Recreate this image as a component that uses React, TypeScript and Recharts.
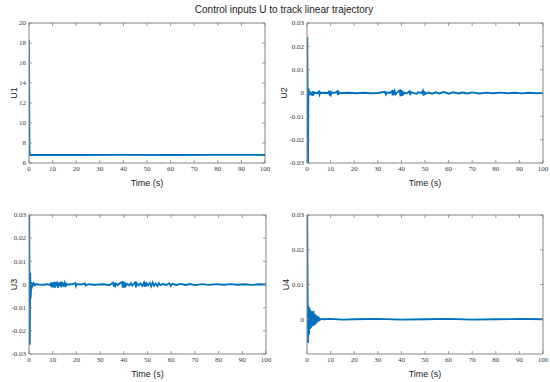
import React from 'react';
import { LineChart, Line, XAxis, YAxis, Label, ReferenceLine } from 'recharts';

// time ticks shared by all four panels
const timeTicks = [0, 10, 20, 30, 40, 50, 60, 70, 80, 90, 100];

const u1Ticks = [6, 8, 10, 12, 14, 16, 18, 20];
const smallTicks = [-0.03, -0.02, -0.01, 0, 0.01, 0.02, 0.03];
const u4Ticks = [0, 0.01, 0.02, 0.03];

const u1Time = [0, 0.2, 0.4, 1, 20, 40, 60, 80, 100];
const u1Value = [18.3, 7.4, 6.8, 6.82, 6.8, 6.82, 6.8, 6.82, 6.8];

const u2Time = [
  0, 0.15, 0.3, 0.45, 0.6, 0.8, 1.1, 1.5,
  2, 2.3, 2.6, 2.9, 3.5, 4.5, 5, 5.3, 5.6, 6, 7.5,
  9, 9.3, 9.6, 9.9, 10.2, 10.5, 11.5, 12.8, 13.1, 13.4, 13.7, 15,
  18, 21, 24, 27, 30, 33, 33.4, 33.8, 35,
  36, 36.3, 36.6, 36.9, 37.2, 37.6, 38.2, 39.3, 39.6, 39.9, 40.2, 40.5, 40.8, 41.5,
  42.3, 43.4, 43.7, 44, 45, 46.5, 47, 48.5, 49.1, 49.4, 49.7, 50, 51.5,
  53, 54.5, 56, 58, 60, 62, 64, 66, 68, 70, 73, 76, 79, 82, 85, 88, 91, 94, 97, 100,
];
const u2Value = [
  0, 0.024, -0.007, -0.03, 0.002, -0.001, 0.0008, -0.0004,
  0, -0.0012, 0.0008, -0.0005, 0.0002, -0.0001, 0.0006, -0.0007, 0.0003, 0, 0.0001,
  0, 0.0009, -0.0011, 0.001, -0.0006, 0.0003, 0, 0.0007, -0.0009, 0.0004, -0.0002, 0,
  0.0001, -0.0001, 0.0001, -0.0001, 0, 0.0005, -0.0006, 0.0002, 0,
  0.0008, -0.001, 0.0012, -0.0009, 0.0007, -0.0005, 0.0003, 0.0011, -0.0014, 0.0013, -0.0012, 0.0009, -0.0006, 0.0002,
  -0.0002, 0.0008, -0.0009, 0.0004, 0.0001, -0.0004, 0.0003, 0, 0.001, -0.0011, 0.0008, -0.0004, 0.0002,
  -0.0003, 0.0003, -0.0002, 0.0004, -0.0003, 0.0003, -0.0002, 0.0002, -0.0002, 0.0003, -0.0002, 0.0002, -0.0001, 0.0002, -0.0001, 0.0001, -0.0002, 0.0001, -0.0001, 0,
];

const u3Time = [
  0, 0.1, 0.2, 0.35, 0.5, 0.7, 1, 1.4,
  2, 2.5, 3, 4, 6, 8, 9, 9.3, 9.6, 9.9, 10.3, 10.7, 11, 11.3, 11.6, 11.9, 12.2, 12.6, 13, 13.3,
  13.6, 14, 14.5, 15, 15.3, 15.6, 15.9, 16.5,
  18, 19.5, 19.8, 20.1, 22, 23.6, 23.9, 25, 28, 31, 34,
  35.5, 35.8, 36.1, 36.4, 36.8, 37.5, 38.2, 39.3, 39.6, 39.9, 40.2, 40.5, 40.8, 41.5, 42.3,
  43, 43.6, 44.2, 44.8, 45.1, 45.4, 46.2, 47, 47.8, 48.5, 48.8, 49.1, 49.4, 49.7, 50.3,
  51, 51.6, 52.2, 52.8, 53.5, 54.2, 54.8, 55.4, 56.5, 58, 59.2, 59.8, 60.5, 62,
  64, 66, 68, 70, 73, 76, 79, 82, 85, 88, 91, 94, 97, 100,
];
const u3Value = [
  0, 0.03, 0.004, -0.026, 0.005, -0.006, 0.001, -0.0008,
  0.0006, -0.0004, 0.0002, 0, -0.0001, 0.0001, -0.0003, 0.0009, -0.0012, 0.0008, -0.0004, 0.0011, -0.0013, 0.001, -0.0006, 0.0012, -0.0014, 0.0008, -0.0005, 0.0011,
  -0.0012, 0.0006, -0.0004, 0.0008, -0.0011, 0.0007, -0.0003, 0,
  0.0001, 0.0006, -0.0007, 0.0002, 0, 0.0005, -0.0004, 0.0001, -0.0001, 0.0001, -0.0002,
  0.0008, -0.0009, 0.0007, -0.0006, 0.0004, -0.0003, 0.0005, 0.001, -0.0013, 0.0012, -0.0014, 0.0009, -0.0007, 0.0003, -0.0004,
  0.0006, -0.0005, 0.0004, 0.0009, -0.0012, 0.0006, -0.0004, 0.0005, -0.0006, 0.0008, -0.001, 0.0009, -0.0008, 0.0005, -0.0003,
  0.0007, -0.0008, 0.0009, -0.0006, 0.0005, -0.0007, 0.0006, -0.0003, 0.0002, -0.0002, 0.0005, -0.0006, 0.0003, -0.0002,
  0.0003, -0.0002, 0.0002, -0.0003, 0.0002, -0.0002, 0.0002, -0.0001, 0.0002, -0.0001, 0.0001, -0.0002, 0.0001, 0,
];

const u4Time = [
  0, 0.1, 0.25, 0.45, 0.65, 0.85, 1.05, 1.3, 1.55, 1.8,
  2.1, 2.4, 2.7, 3.0, 3.3, 3.6, 3.9, 4.2, 4.5, 4.8,
  5.1, 5.5, 6, 7, 10, 15, 20, 30, 40, 50,
  60, 70, 80, 90, 100,
];
const u4Value = [
  0, 0.03, 0.01, -0.0068, 0.0038, -0.0045, 0.0032, -0.0028, 0.0026, -0.0024,
  0.0022, -0.002, 0.0024, -0.0018, 0.0016, -0.0015, 0.0012, -0.001, 0.0008, -0.0006,
  0.0003, -0.0002, 0.0001, 0, 0.0001, -0.0001, 0, 0.0001, -0.0001, 0,
  0.0001, -0.0001, 0, 0.0001, 0,
];

const toRows = (ts: number[], vs: number[]) =>
  ts.slice(0, Math.min(ts.length, vs.length)).map((t, i) => ({ t, v: vs[i] }));

const LINE = '#0072BD';
const AXIS = '#858585';
const SERIF = '"Liberation Serif", "DejaVu Serif", serif';
const labelFont = { fontFamily: '"Liberation Sans", Arial, sans-serif', fontSize: 9, fill: '#222' };
const GAP = 3; // tick label gap
const TICK = 3; // inward tick length

// bottom tick: label below the axis, inward ticks at bottom and top of the box
const makeXTick = (plotH: number) => (props: any) => {
  const { x, y, payload } = props;
  const base = y - GAP;
  return (
    <g>
      <line x1={x} x2={x} y1={base} y2={base - TICK} stroke={AXIS} strokeWidth={0.8} />
      <line x1={x} x2={x} y1={base - plotH} y2={base - plotH + TICK} stroke={AXIS} strokeWidth={0.8} />
      <text x={x} y={y} dy="0.75em" textAnchor="middle" fontFamily={SERIF} fontSize={7} fill="#3a3a3a">
        {payload.value}
      </text>
    </g>
  );
};

// left tick: label left of the axis, inward ticks at left and right of the box
const makeYTick = (plotW: number) => (props: any) => {
  const { x, y, payload } = props;
  const base = x + GAP;
  return (
    <g>
      <line x1={base} x2={base + TICK} y1={y} y2={y} stroke={AXIS} strokeWidth={0.8} />
      <line x1={base + plotW} x2={base + plotW - TICK} y1={y} y2={y} stroke={AXIS} strokeWidth={0.8} />
      <text x={x} y={y} dy="0.33em" textAnchor="end" fontFamily={SERIF} fontSize={7} fill="#3a3a3a">
        {payload.value}
      </text>
    </g>
  );
};

type PanelProps = {
  left: number;
  top: number;
  marginTop: number;
  marginRight: number;
  yWidth: number;
  rows: { t: number; v: number }[];
  yDomain: [number, number];
  yTicks: number[];
  name: string;
  nameDx: number;
};

const Panel = ({ left, top, marginTop, marginRight, yWidth, rows, yDomain, yTicks, name, nameDx }: PanelProps) => {
  const plotW = 275 - marginRight - yWidth;
  const plotH = 191 - marginTop - 28;
  return (
    <div style={{ position: 'absolute', left, top }}>
      <LineChart width={275} height={191} data={rows} margin={{ top: marginTop, right: marginRight, bottom: 0, left: 0 }}>
        <XAxis
          dataKey="t"
          type="number"
          domain={[0, 100]}
          ticks={timeTicks}
          allowDataOverflow
          height={28}
          tickLine={false}
          tickSize={0}
          tickMargin={GAP}
          stroke={AXIS}
          tick={makeXTick(plotH)}
          interval={0}
        >
          <Label value="Time (s)" position="center" dy={6} style={labelFont} />
        </XAxis>
        <YAxis
          type="number"
          domain={yDomain}
          ticks={yTicks}
          allowDataOverflow
          width={yWidth}
          tickLine={false}
          tickSize={0}
          tickMargin={GAP}
          stroke={AXIS}
          tick={makeYTick(plotW)}
          interval={0}
        >
          <Label value={name} position="center" angle={-90} dx={nameDx} style={labelFont} />
        </YAxis>
        {/* top and right edges of the box */}
        <ReferenceLine y={yDomain[1]} stroke={AXIS} strokeWidth={1} />
        <ReferenceLine x={100} stroke={AXIS} strokeWidth={1} />
        <Line type="linear" dataKey="v" stroke={LINE} strokeWidth={1.8} dot={false} isAnimationActive={false} />
      </LineChart>
    </div>
  );
};

export default function App() {
  return (
    <div style={{ position: 'absolute', left: 0, top: 0, width: 550, height: 382, background: '#fff', overflow: 'hidden' }}>
      <div
        style={{
          position: 'absolute',
          top: 4,
          left: 9,
          width: 550,
          textAlign: 'center',
          fontFamily: '"Liberation Sans", Arial, sans-serif',
          fontSize: 10,
          lineHeight: '12px',
          color: '#222',
        }}
      >
        Control inputs U to track linear trajectory
      </div>
      <Panel left={0} top={0} marginTop={23} marginRight={10} yWidth={29} rows={toRows(u1Time, u1Value)}
        yDomain={[6, 20]} yTicks={u1Ticks} name="U1" nameDx={-1} />
      <Panel left={275} top={0} marginTop={23} marginRight={7} yWidth={32} rows={toRows(u2Time, u2Value)}
        yDomain={[-0.03, 0.03]} yTicks={smallTicks} name="U2" nameDx={-7} />
      <Panel left={0} top={191} marginTop={24} marginRight={9} yWidth={29} rows={toRows(u3Time, u3Value)}
        yDomain={[-0.03, 0.03]} yTicks={smallTicks} name="U3" nameDx={-1} />
      <Panel left={275} top={191} marginTop={24} marginRight={7} yWidth={32} rows={toRows(u4Time, u4Value)}
        yDomain={[-0.01, 0.03]} yTicks={u4Ticks} name="U4" nameDx={-5} />
    </div>
  );
}
